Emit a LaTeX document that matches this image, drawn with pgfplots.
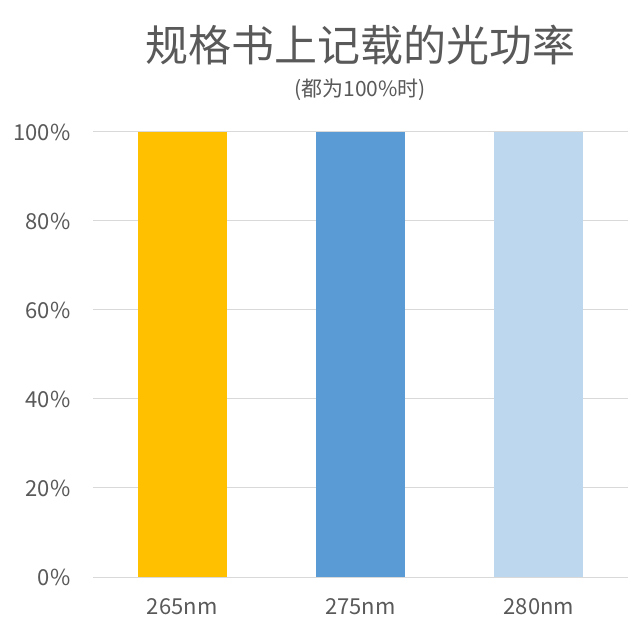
\documentclass[border=0pt]{standalone}
\usepackage{fontspec}
\setmainfont{Noto Sans CJK SC}
\usepackage{pgfplots}
\pgfplotsset{compat=1.18}

\definecolor{txt}{HTML}{595959}
\definecolor{gridc}{HTML}{D9D9D9}
\definecolor{c265}{HTML}{FFC000}
\definecolor{c275}{HTML}{5B9BD5}
\definecolor{c280}{HTML}{BDD7EE}

\begin{document}
\begin{tikzpicture}
\path[use as bounding box] (-93pt,-51pt) rectangle (551pt,577pt);
\begin{axis}[
    at={(0pt,0pt)}, anchor=south west,
    scale only axis,
    width=535pt, height=445pt,
    xmin=-0.5, xmax=2.5,
    ymin=0, ymax=100,
    xtick={0,1,2},
    xticklabels={265nm,275nm,280nm},
    ytick={0,20,40,60,80,100},
    yticklabel={\pgfmathprintnumber{\tick}\%},
    /pgf/number format/assume math mode=true,
    ymajorgrids,
    major grid style={gridc, line width=1pt},
    axis line style={draw=none},
    major tick length=0pt,
    ticklabel style={text=txt, font=\fontsize{22}{22}\selectfont},
    yticklabel style={xshift=-19pt},
    xticklabel style={yshift=-18pt},
    ybar, bar shift=0pt, bar width=89pt,
    clip=false,
]
\addplot[fill=c265, draw=none] coordinates {(0,100)};
\addplot[fill=c275, draw=none] coordinates {(1,100)};
\addplot[fill=c280, draw=none] coordinates {(2,100)};
\end{axis}
\node[text=txt, font=\fontsize{43}{43}\selectfont] at (267pt,532pt) {规格书上记载的光功率};
\node[text=txt, font=\fontsize{21}{21}\selectfont] at (267pt,487pt) {(都为100\%时)};
\end{tikzpicture}
\end{document}
